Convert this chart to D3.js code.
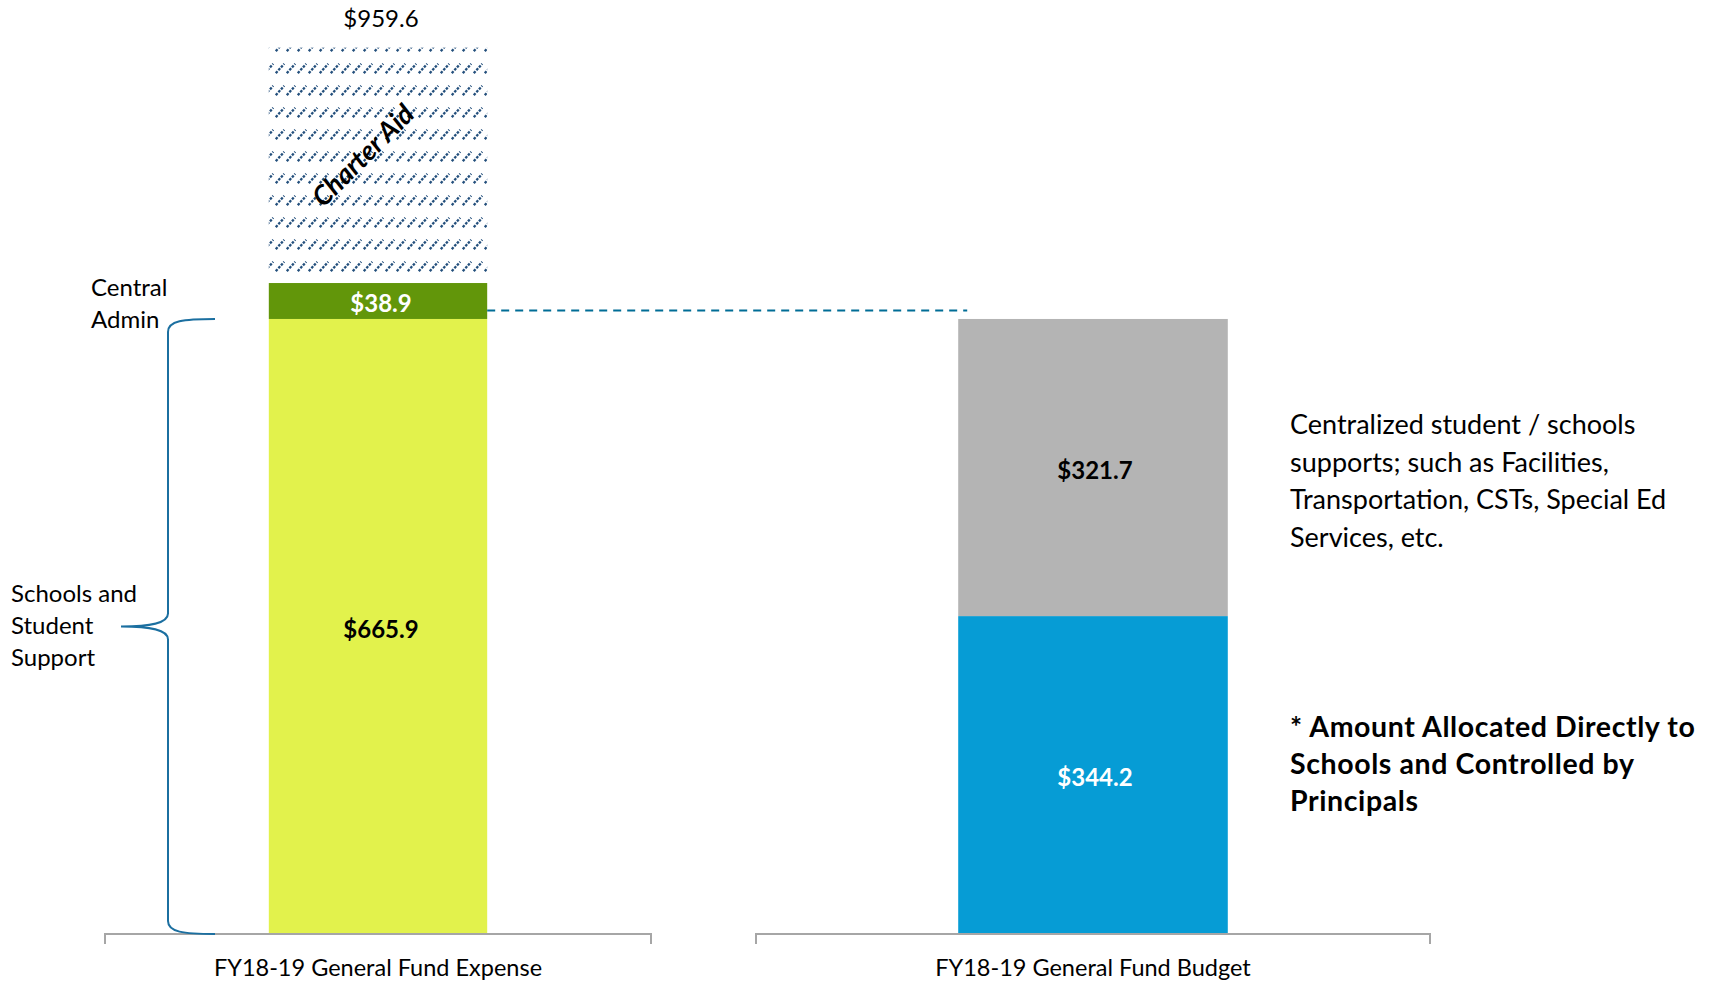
<!DOCTYPE html>
<html>
<head>
<meta charset="utf-8">
<script src="https://cdn.jsdelivr.net/npm/d3@7"></script>
<style>
  html, body { margin: 0; padding: 0; background: #fff; }
  svg { display: block; font-family: Lato, "Open Sans", sans-serif; }
</style>
</head>
<body>
<svg id="chart" width="1725" height="981"></svg>
<script>
// ---- data ($ millions) ----
const categories = ["FY18-19 General Fund Expense", "FY18-19 General Fund Budget"];

const expenseSegments = ["Schools and Student Support", "Central Admin", "Charter Aid"];
const expenseValues = [665.9, 38.9, 254.8];
const expenseTotal = 959.6;

const budgetSegments = ["Allocated Directly to Schools", "Centralized Supports"];
const budgetValues = [344.2, 321.7];

const bracketLabels = [["Central", "Admin"], ["Schools and", "Student", "Support"]];
const sideNote = ["Centralized student / schools", "supports; such as Facilities,", "Transportation, CSTs, Special Ed", "Services, etc."];
const boldNote = ["* Amount Allocated Directly to", "Schools and Controlled by", "Principals"];
const referenceLevel = 675;

// ---- layout ----
const svg = d3.select("#chart");
const y = d3.scaleLinear().domain([0, expenseTotal]).range([934, 47.7]);
const fmt = v => "$" + d3.format(".1f")(v);

// each bar sits in its own panel with its own baseline segment
const panels = [
  { cat: categories[0], range: [105, 651] },
  { cat: categories[1], range: [756, 1430] }
];
panels.forEach(p => {
  p.x = d3.scaleBand().domain([p.cat]).range(p.range).padding(0.4286);
});

// hatch pattern for the charter aid block: rows of short dashed diagonals
const defs = svg.append("defs");
const pat = defs.append("pattern")
  .attr("id", "hatch")
  .attr("patternUnits", "userSpaceOnUse")
  .attr("width", 11).attr("height", 22)
  .attr("x", 0).attr("y", 8);
pat.append("line")
  .attr("x1", 0.8).attr("y1", 21.2)
  .attr("x2", 9.2).attr("y2", 11.8)
  .attr("stroke", "#234f7c")
  .attr("stroke-width", 2.3)
  .attr("stroke-dasharray", "2.6,1.3");

// stack helpers
function stackSegments(names, values) {
  let acc = 0;
  return names.map((n, i) => {
    const s = { name: n, y0: acc, y1: acc + values[i], value: values[i] };
    acc += values[i];
    return s;
  });
}

const expenseStack = stackSegments(expenseSegments, expenseValues);
const budgetStack = stackSegments(budgetSegments, budgetValues);

const expenseFill = ["#e2f24c", "#62960a", "url(#hatch)"];
const budgetFill = ["#069cd5", "#b4b4b4"];

// ---- expense bar ----
const px0 = panels[0].x;
svg.append("g").selectAll("rect")
  .data(expenseStack)
  .join("rect")
  .attr("x", px0(categories[0]))
  .attr("width", px0.bandwidth())
  .attr("y", d => y(d.y1))
  .attr("height", d => y(d.y0) - y(d.y1))
  .attr("fill", (d, i) => expenseFill[i]);

// ---- budget bar ----
const px1 = panels[1].x;
svg.append("g").selectAll("rect")
  .data(budgetStack)
  .join("rect")
  .attr("x", px1(categories[1]))
  .attr("width", px1.bandwidth())
  .attr("y", d => y(d.y1))
  .attr("height", d => y(d.y0) - y(d.y1))
  .attr("fill", (d, i) => budgetFill[i]);

// segment value labels
const cx0 = px0(categories[0]) + px0.bandwidth() / 2 + 3;
const cx1 = px1(categories[1]) + px1.bandwidth() / 2 + 2;
const segLabels = [
  { x: cx0, s: expenseStack[0], color: "#000" },
  { x: cx0, s: expenseStack[1], color: "#fff" },
  { x: cx1, s: budgetStack[0], color: "#fff" },
  { x: cx1, s: budgetStack[1], color: "#000" }
];
svg.append("g").selectAll("text")
  .data(segLabels)
  .join("text")
  .attr("x", d => d.x)
  .attr("y", d => y((d.s.y0 + d.s.y1) / 2) + 3)
  .attr("dy", "0.35em")
  .attr("text-anchor", "middle")
  .attr("font-size", 24)
  .attr("font-weight", "bold")
  .attr("fill", d => d.color)
  .text(d => fmt(d.s.value));

// total above the expense bar
svg.append("text")
  .attr("x", cx0)
  .attr("y", y(expenseTotal) - 21)
  .attr("text-anchor", "middle")
  .attr("font-size", 24)
  .attr("fill", "#000")
  .text(fmt(expenseTotal));

// charter aid label, rotated across the hatched block
const ca = expenseStack[2];
svg.append("text")
  .attr("transform", `translate(${cx0 - 18},${y((ca.y0 + ca.y1) / 2) - 10}) rotate(-45)`)
  .attr("text-anchor", "middle")
  .attr("dy", "0.35em")
  .attr("font-size", 27)
  .attr("font-weight", "bold")
  .attr("font-style", "italic")
  .attr("fill", "#000")
  .text(ca.name);

// dashed reference line to the budget bar
svg.append("line")
  .attr("x1", px0(categories[0]) + px0.bandwidth())
  .attr("x2", px1(categories[1]) + 9)
  .attr("y1", y(referenceLevel))
  .attr("y2", y(referenceLevel))
  .attr("stroke", "#006d96")
  .attr("stroke-width", 2)
  .attr("stroke-dasharray", "8,6");

// baseline segments with end ticks
panels.forEach(p => {
  const [a, b] = p.range;
  const y0 = y(0);
  svg.append("path")
    .attr("d", `M${a},${y0 + 10}V${y0}H${b}V${y0 + 10}`)
    .attr("fill", "none")
    .attr("stroke", "#a6a6a6")
    .attr("stroke-width", 2);
  svg.append("text")
    .attr("x", p.x(p.cat) + p.x.bandwidth() / 2)
    .attr("y", y0 + 42)
    .attr("text-anchor", "middle")
    .attr("font-size", 23.5)
    .attr("fill", "#000")
    .text(p.cat);
});

// curly bracket spanning the schools and student support block
const bTop = y(expenseStack[0].y1);
const bBot = y(expenseStack[0].y0);
const bMid = y((expenseStack[0].y0 + expenseStack[0].y1) / 2);
const bx = 168, hook = 215, tip = 121;
svg.append("path")
  .attr("d", `M${hook},${bTop} C${bx + 15},${bTop} ${bx},${bTop + 2} ${bx},${bTop + 13}
    L${bx},${bMid - 13} C${bx},${bMid - 3} ${bx - 18},${bMid} ${tip},${bMid}
    C${bx - 18},${bMid} ${bx},${bMid + 3} ${bx},${bMid + 13}
    L${bx},${bBot - 13} C${bx},${bBot - 2} ${bx + 15},${bBot} ${hook},${bBot}`)
  .attr("fill", "none")
  .attr("stroke", "#1b6fa0")
  .attr("stroke-width", 2);

// bracket labels
function multiline(lines, x, yFirst, lh, size, weight, spacing) {
  const t = svg.append("text")
    .attr("font-size", size)
    .attr("font-weight", weight || "normal")
    .attr("letter-spacing", spacing || 0)
    .attr("fill", "#000");
  lines.forEach((l, i) => {
    t.append("tspan").attr("x", x).attr("y", yFirst + i * lh).text(l);
  });
}
multiline(bracketLabels[0], 91, 296, 32, 24);
multiline(bracketLabels[1], 11, 602, 32, 24);

// notes beside the budget bar
multiline(sideNote, 1290, 434, 37.5, 27);
multiline(boldNote, 1290, 737, 37, 28.5, "bold", 0.6);
</script>
</body>
</html>
